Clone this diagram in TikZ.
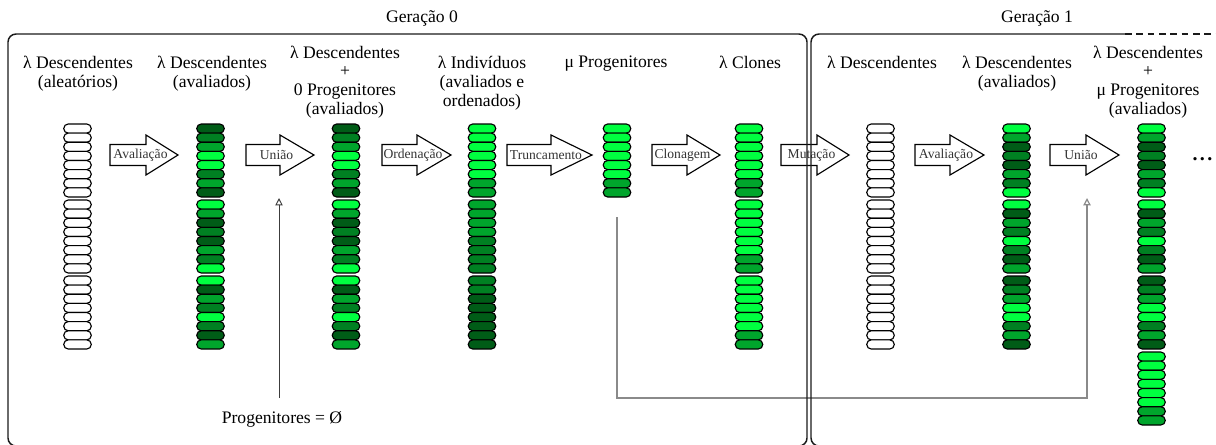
\documentclass[tikz,border=0pt]{standalone}
\usepackage{fontspec}
\setmainfont{Liberation Serif}
\usetikzlibrary{arrows.meta}
\definecolor{gB}{HTML}{00FF40}
\definecolor{gM}{HTML}{00A52C}
\definecolor{gD}{HTML}{008022}
\definecolor{gK}{HTML}{005C17}
\definecolor{gW}{HTML}{FFFFFF}
\definecolor{boxline}{HTML}{1A1A1A}
\definecolor{conngray}{HTML}{8A8A8A}
\definecolor{conndark}{HTML}{3C3C3C}
\definecolor{labelgray}{HTML}{333333}
\tikzset{
  cell/.style={draw=black, line width=0.85pt, rounded corners=3.3pt, minimum width=20.6pt, minimum height=6.84pt, inner sep=0pt, outer sep=0pt},
  barrow/.style={draw=black, line width=0.85pt, fill=white, line join=miter},
  alabel/.style={inner sep=0pt, text=labelgray, font=\fontsize{10.2pt}{11pt}\selectfont},
  clabel/.style={anchor=north, inner sep=0pt, align=center, font=\fontsize{13.2pt}{14.1pt}\selectfont},
  glabel/.style={anchor=base, inner sep=0pt, font=\fontsize{13.2pt}{14.1pt}\selectfont},
  genbox/.style={draw=boxline, line width=1.1pt, rounded corners=6pt},
  conn/.style={line width=0.9pt, draw=conngray, -{Triangle[open, length=5.5pt, width=5.5pt]}},
  conn0/.style={line width=0.7pt, draw=conndark, -{Triangle[open, length=5.5pt, width=5.5pt]}},
}
\newcommand\cellcol[3]{%
  \foreach \c [count=\i from 0] in {#3} {%
    \pgfmathsetmacro\yy{128.56+\i*9.125+3*floor(\i/8)}%
    \node[cell, fill=g\c] (#1-\i) at (#2,\yy) {};%
  }%
}
\newcommand\blockarrow[5]{%
  \draw[barrow] (#2,144.5) -- (#3,144.5) -- (#3,135) -- (#4,155) -- (#3,175) -- (#3,165.5) -- (#2,165.5) -- cycle;
  \node[alabel] (#1) at ({(#2+#4)/2-3.5},155) {#5};
}
\begin{document}
\begin{tikzpicture}[x=0.75pt,y=-0.75pt]
\useasboundingbox (0,0) rectangle (1216,444);
% columns
\cellcol{c1}{77.5}{W,W,W,W,W,W,W,W,W,W,W,W,W,W,W,W,W,W,W,W,W,W,W,W}
\cellcol{c2}{210.5}{K,D,M,B,B,D,M,K,B,M,K,D,K,M,D,B,B,K,M,D,B,D,K,M}
\cellcol{c3}{346}{K,D,M,B,B,D,M,K,B,M,K,D,K,M,D,B,B,K,M,D,B,D,K,M}
\cellcol{c4}{482}{B,B,B,B,B,B,M,M,M,M,M,M,D,D,D,D,D,D,K,K,K,K,K,K}
\cellcol{c5}{617}{B,B,B,B,B,B,M,M}
\cellcol{c6}{749}{B,B,B,B,B,B,M,M,B,B,B,B,B,B,M,M,B,B,B,B,B,B,M,M}
\cellcol{c7}{880.5}{W,W,W,W,W,W,W,W,W,W,W,W,W,W,W,W,W,W,W,W,W,W,W,W}
\cellcol{c8}{1016.5}{B,M,K,D,K,M,D,B,B,K,M,D,B,D,K,M,K,D,M,B,B,D,M,K}
\cellcol{c9}{1151.5}{B,M,K,D,K,M,D,B,B,K,M,D,B,D,K,M,K,D,M,B,B,D,M,K,B,B,B,B,B,B,M,M}
% block arrows
\blockarrow{aAval}{110}{146}{178}{Avaliação}
\blockarrow{aUniao}{246}{280}{314}{União}
\blockarrow{aOrd}{382}{417}{451}{Ordenação}
\blockarrow{aTrunc}{507}{551}{592}{Truncamento}
\blockarrow{aClon}{652}{687}{720}{Clonagem}
\blockarrow{aMut}{781}{817}{849}{Mutação}
\blockarrow{aAval1}{915}{950}{984}{Avaliação}
\blockarrow{aUniao1}{1050}{1086}{1119}{União}
% labels
\node[glabel] (g0) at (422,22) {Geração 0};
\node[glabel] (g1) at (1037,22) {Geração 1};
\node[clabel] (l1) at (78,56) {λ Descendentes\\(aleatórios)};
\node[clabel] (l2) at (212,56) {λ Descendentes\\(avaliados)};
\node[clabel] (l3) at (345,45.5) {λ Descendentes\\+\\0 Progenitores\\(avaliados)};
\node[clabel] (l4) at (482,56) {λ Indivíduos\\(avaliados e\\ordenados)};
\node[clabel] (l5) at (616,56) {μ Progenitores};
\node[clabel] (l6) at (750,56) {λ Clones};
\node[clabel] (l7) at (882,56) {λ Descendentes};
\node[clabel] (l8) at (1017,56) {λ Descendentes\\(avaliados)};
\node[clabel] (l9) at (1148,45.5) {λ Descendentes\\+\\μ Progenitores\\(avaliados)};
\node[glabel, font=\fontsize{15pt}{16pt}\selectfont\bfseries] (dots) at (1202.5,160) {.\hspace{0.12em}.\hspace{0.12em}.};
\node[glabel] (pnull) at (282,423) {Progenitores = Ø};
% connectors
\coordinate (p0start) at (279,398);
\coordinate (p0end) at (279,198);
\draw[conn0] (p0start) -- (p0end);
\coordinate (pStart) at (617,217);
\coordinate (pCorner) at (617,398);
\coordinate (pEnd) at (1087,198);
\draw[conn] (pStart) -- (pCorner) -| (pEnd);
% generation boxes
\draw[genbox] (8,34) rectangle (807,446);
\draw[genbox] (1125,34) -- (811,34) -- (811,446) -- (1000,446);
\draw[draw=boxline, line width=1.1pt, dash pattern=on 5pt off 3.5pt] (1125,34) -- (1216,34);
\end{tikzpicture}
\end{document}
